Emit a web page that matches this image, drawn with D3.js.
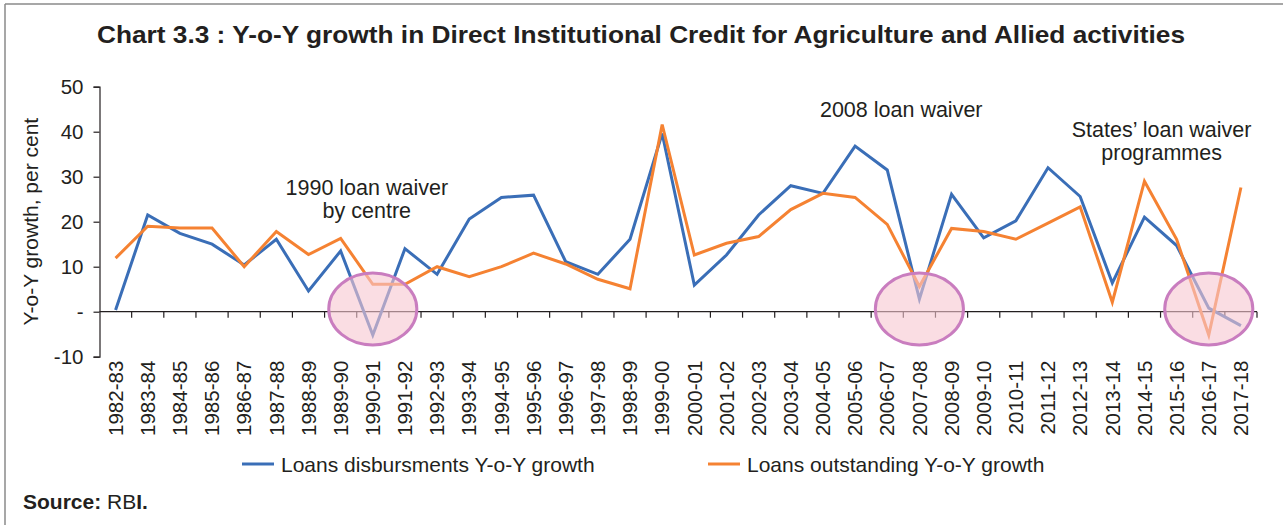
<!DOCTYPE html>
<html>
<head>
<meta charset="utf-8">
<script src="https://cdn.jsdelivr.net/npm/d3@7"></script>
<style>
  html, body { margin: 0; padding: 0; background: #fff; }
  svg { display: block; font-family: "Liberation Sans", Arial, sans-serif; }
</style>
</head>
<body>
<svg id="chart" width="1283" height="527"></svg>
<script>
const categories = ["1982-83","1983-84","1984-85","1985-86","1986-87","1987-88","1988-89","1989-90","1990-91","1991-92","1992-93","1993-94","1994-95","1995-96","1996-97","1997-98","1998-99","1999-00","2000-01","2001-02","2002-03","2003-04","2004-05","2005-06","2006-07","2007-08","2008-09","2009-10","2010-11","2011-12","2012-13","2013-14","2014-15","2015-16","2016-17","2017-18"];
const disbursements = [0.4, 21.5, 17.4, 15.0, 10.4, 16.1, 4.6, 13.5, -5.2, 14.0, 8.3, 20.6, 25.4, 25.9, 11.1, 8.3, 16.1, 39.6, 5.9, 12.6, 21.5, 28.0, 26.3, 36.8, 31.5, 2.8, 26.1, 16.4, 20.2, 32.0, 25.6, 6.4, 21.0, 14.7, 0.8, -3.1];
const outstanding = [11.9, 19.0, 18.6, 18.6, 10.0, 17.8, 12.7, 16.3, 6.1, 6.1, 10.0, 7.8, 10.0, 13.0, 10.6, 7.2, 5.1, 41.6, 12.6, 15.2, 16.7, 22.7, 26.3, 25.4, 19.4, 5.6, 18.5, 17.8, 16.1, 19.7, 23.3, 2.1, 29.0, 16.1, -5.2, 27.6];
const yTicks = [-10, 0, 10, 20, 30, 40, 50];
const seriesNames = ["Loans disbursments Y-o-Y growth", "Loans outstanding Y-o-Y growth"];
const highlighted = ["1990-91", "2007-08", "2016-17"];
const annotations = [
  { lines: ["1990 loan waiver", "by centre"], cat: "1990-91", value: 26.0 },
  { lines: ["2008 loan waiver"], cat: "2006-07", value: 43.2 },
  { lines: ["States\u2019 loan waiver", "programmes"], cat: "2015-16", value: 38.8 }
];
const titleText = "Chart 3.3 : Y-o-Y growth in Direct Institutional Credit for Agriculture and Allied activities";

const BLUE = "#3a6eb7", ORANGE = "#f58232", TEXT = "#231f20";

const svg = d3.select("#chart");

// frame
svg.append("line").attr("x1", 5).attr("x2", 1283).attr("y1", 4).attr("y2", 4)
  .attr("stroke", "#8a8a8a").attr("stroke-width", 1.5);
svg.append("line").attr("x1", 5).attr("x2", 5).attr("y1", 4).attr("y2", 525)
  .attr("stroke", "#8a8a8a").attr("stroke-width", 1.5);

// title
svg.append("text").attr("x", 97).attr("y", 43)
  .attr("font-size", 24).attr("font-weight", "bold").attr("fill", TEXT)
  .attr("textLength", 1088).attr("lengthAdjust", "spacingAndGlyphs")
  .text(titleText);

const x = d3.scaleBand().domain(categories).range([99.5, 1257]).padding(0);
const y = d3.scaleLinear().domain([-10, 50]).range([356.7, 86.7]);
const cx = c => x(c) + x.bandwidth() / 2;

// y axis
const yAxis = svg.append("g").attr("transform", `translate(${x.range()[0]},0)`)
  .call(d3.axisLeft(y).tickValues(yTicks).tickSize(6).tickPadding(10)
    .tickFormat(d => d === 0 ? "-" : String(d)));
yAxis.select(".domain").attr("stroke", TEXT).attr("stroke-width", 1.2);
yAxis.selectAll(".tick line").attr("stroke", TEXT).attr("stroke-width", 1.2);
yAxis.selectAll(".tick text").attr("font-size", 20.5).attr("fill", TEXT)
  .attr("font-family", "Liberation Sans, Arial, sans-serif");

// x axis line at zero with boundary ticks
const x0 = x.range()[0], x1 = x.range()[1];
svg.append("line").attr("x1", x0).attr("x2", x1).attr("y1", y(0)).attr("y2", y(0))
  .attr("stroke", TEXT).attr("stroke-width", 1.2);
const boundaries = categories.map(c => x(c)).concat([x1]);
svg.append("g").selectAll("line").data(boundaries.slice(1)).join("line")
  .attr("x1", d => d).attr("x2", d => d)
  .attr("y1", y(0)).attr("y2", y(0) + 6)
  .attr("stroke", TEXT).attr("stroke-width", 1.2);

// x labels (low position)
svg.append("g").selectAll("text").data(categories).join("text")
  .attr("transform", d => `translate(${cx(d)},${y(-10) + 4}) rotate(-90)`)
  .attr("text-anchor", "end").attr("dy", "0.35em")
  .attr("font-size", 20.5).attr("fill", TEXT)
  .text(d => d);

// y axis title
svg.append("text")
  .attr("transform", `translate(38,${(y(50) + y(-10)) / 2}) rotate(-90)`)
  .attr("text-anchor", "middle").attr("font-size", 21).attr("fill", TEXT)
  .text("Y-o-Y growth, per cent");

// lines
const line = d3.line().x((d, i) => cx(categories[i])).y(d => y(d));
svg.append("path").datum(disbursements).attr("d", line)
  .attr("fill", "none").attr("stroke", BLUE).attr("stroke-width", 3)
  .attr("stroke-linejoin", "miter");
svg.append("path").datum(outstanding).attr("d", line)
  .attr("fill", "none").attr("stroke", ORANGE).attr("stroke-width", 3)
  .attr("stroke-linejoin", "miter");

// highlight ellipses
svg.append("g").selectAll("ellipse").data(highlighted).join("ellipse")
  .attr("cx", d => cx(d)).attr("cy", y(0.6))
  .attr("rx", x.bandwidth() * 1.37).attr("ry", y(0) - y(8))
  .attr("fill", "#f6c6d0").attr("fill-opacity", 0.6)
  .attr("stroke", "#c97dbf").attr("stroke-width", 3);

// annotations
const annOffset = { "1990-91": -6, "2006-07": 14, "2015-16": -15 };
annotations.forEach(a => {
  const t = svg.append("text").attr("text-anchor", "middle")
    .attr("font-size", 21.5).attr("fill", TEXT);
  a.lines.forEach((ln, i) => {
    t.append("tspan").attr("x", cx(a.cat) + annOffset[a.cat])
      .attr("y", y(a.value) + i * 23).text(ln);
  });
});

// legend
const legend = [
  { name: seriesNames[0], color: BLUE, x: 242 },
  { name: seriesNames[1], color: ORANGE, x: 708 }
];
legend.forEach(l => {
  svg.append("line").attr("x1", l.x).attr("x2", l.x + 32).attr("y1", 464).attr("y2", 464)
    .attr("stroke", l.color).attr("stroke-width", 3);
  svg.append("text").attr("x", l.x + 39).attr("y", 472)
    .attr("font-size", 21).attr("fill", TEXT).text(l.name);
});

// source
const src = svg.append("text").attr("x", 23).attr("y", 509).attr("font-size", 21).attr("fill", TEXT);
src.append("tspan").attr("font-weight", "bold").text("Source:");
src.append("tspan").text(" RB");
src.append("tspan").attr("font-weight", "bold").text("I.");
</script>
</body>
</html>
